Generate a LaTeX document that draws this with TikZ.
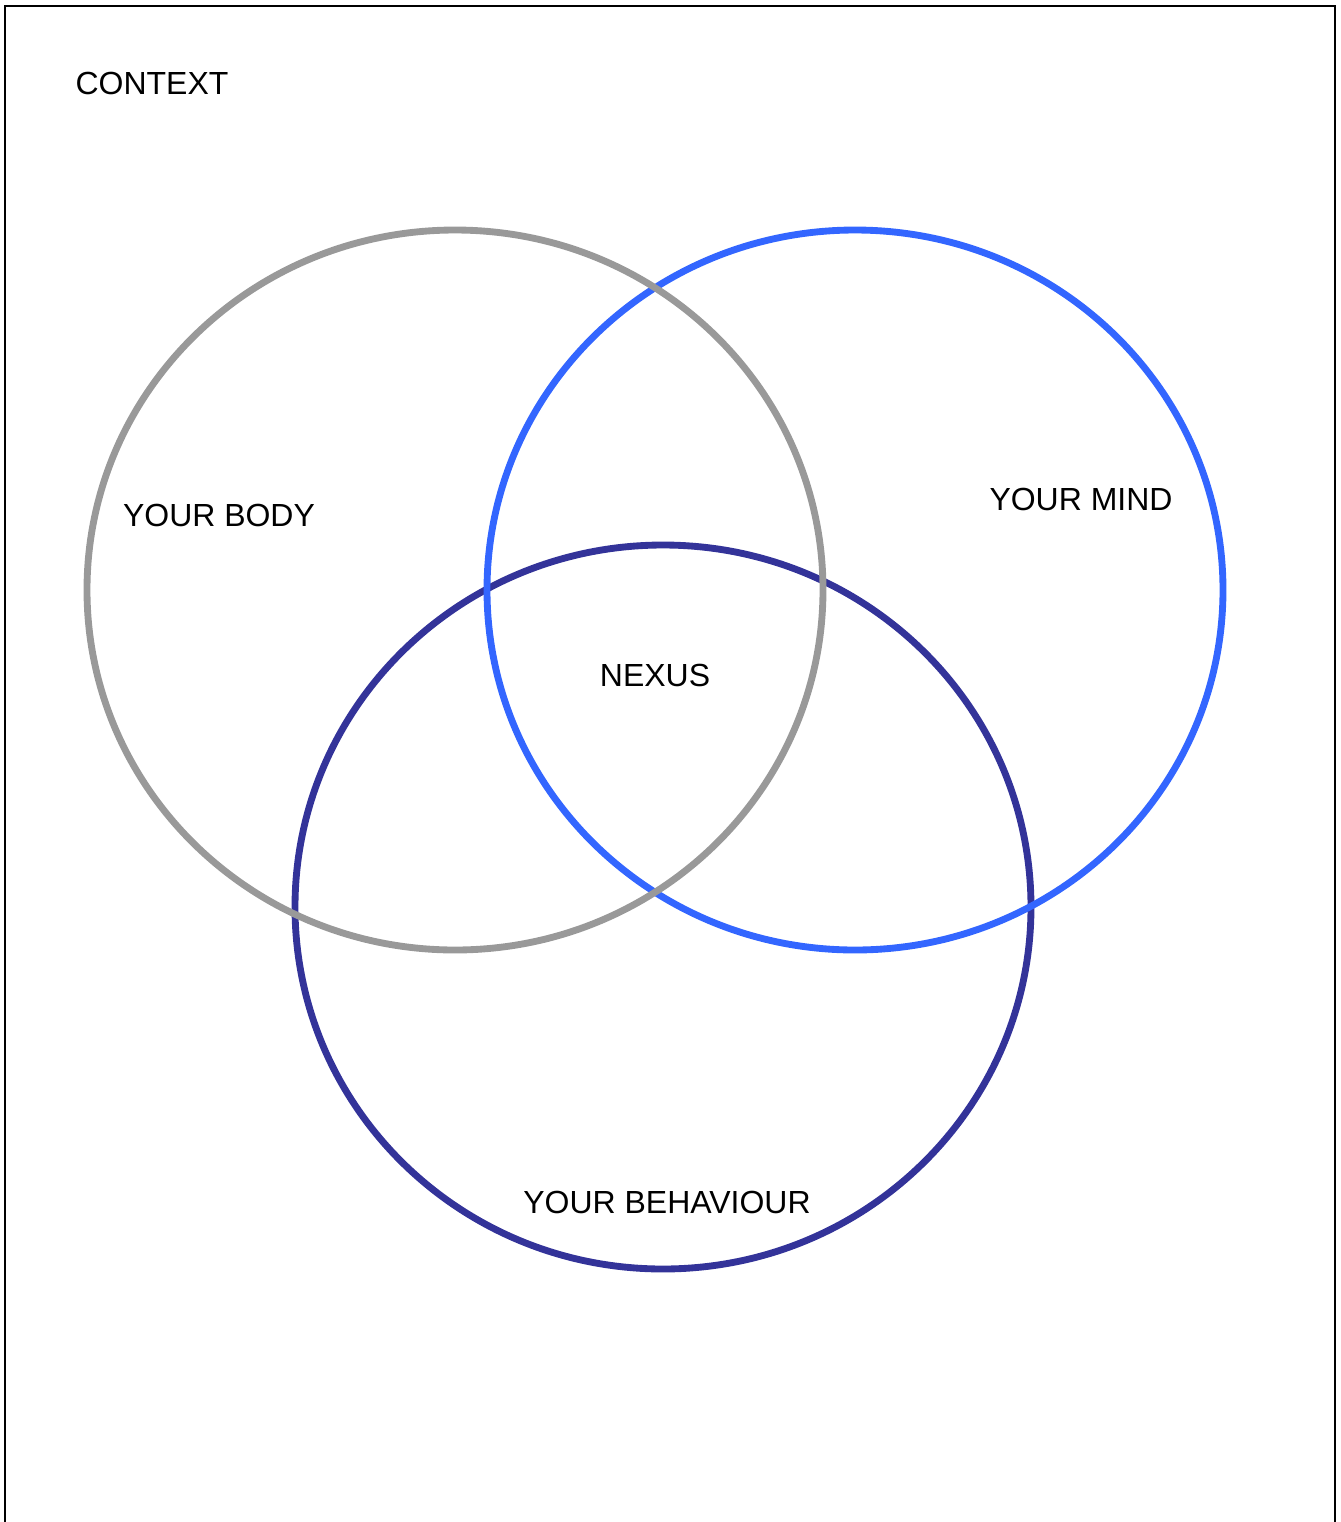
\documentclass[tikz,border=0pt]{standalone}
\usepackage{fontspec}
\setmainfont{Liberation Sans}
\usepackage{tikz}
\usetikzlibrary{positioning}
\usepackage{xcolor}
\definecolor{bodygray}{HTML}{999999}
\definecolor{mindblue}{HTML}{3366FF}
\definecolor{actblue}{HTML}{333399}
\tikzset{
  ring/.style={draw=#1,line width=3.9pt},
  frame/.style={draw=black,line width=1.1pt},
  tag/.style={font=\fontsize{18.2}{21}\selectfont,inner sep=0pt,text=black}
}
\begin{document}
\begin{tikzpicture}[x=0.02cm,y=-0.02cm]
  \useasboundingbox (0,0) rectangle (1340,1522);
  % open frame round the whole picture
  \coordinate (fbl) at (5,1522);
  \coordinate (ftl) at (5,6);
  \coordinate (ftr) at (1335,6);
  \coordinate (fbr) at (1335,1522);
  \draw[frame] (fbl) -- (ftl) -- (ftr) -- (fbr);
  \node[tag] (context) at (152,83) {CONTEXT};
  % the three sets
  \draw[ring=actblue] (663,907) ellipse [x radius=368, y radius=362];
  \draw[ring=mindblue] (855,590) ellipse [x radius=368, y radius=360];
  \draw[ring=bodygray] (455,590) ellipse [x radius=368, y radius=360];
  \node[tag] (body) at (219,515) {YOUR BODY};
  \node[tag] (mind) at (1081,499) {YOUR MIND};
  \node[tag] (nexus) at (655,675) {NEXUS};
  \node[tag] (behaviour) at (667,1202) {YOUR BEHAVIOUR};
\end{tikzpicture}
\end{document}
